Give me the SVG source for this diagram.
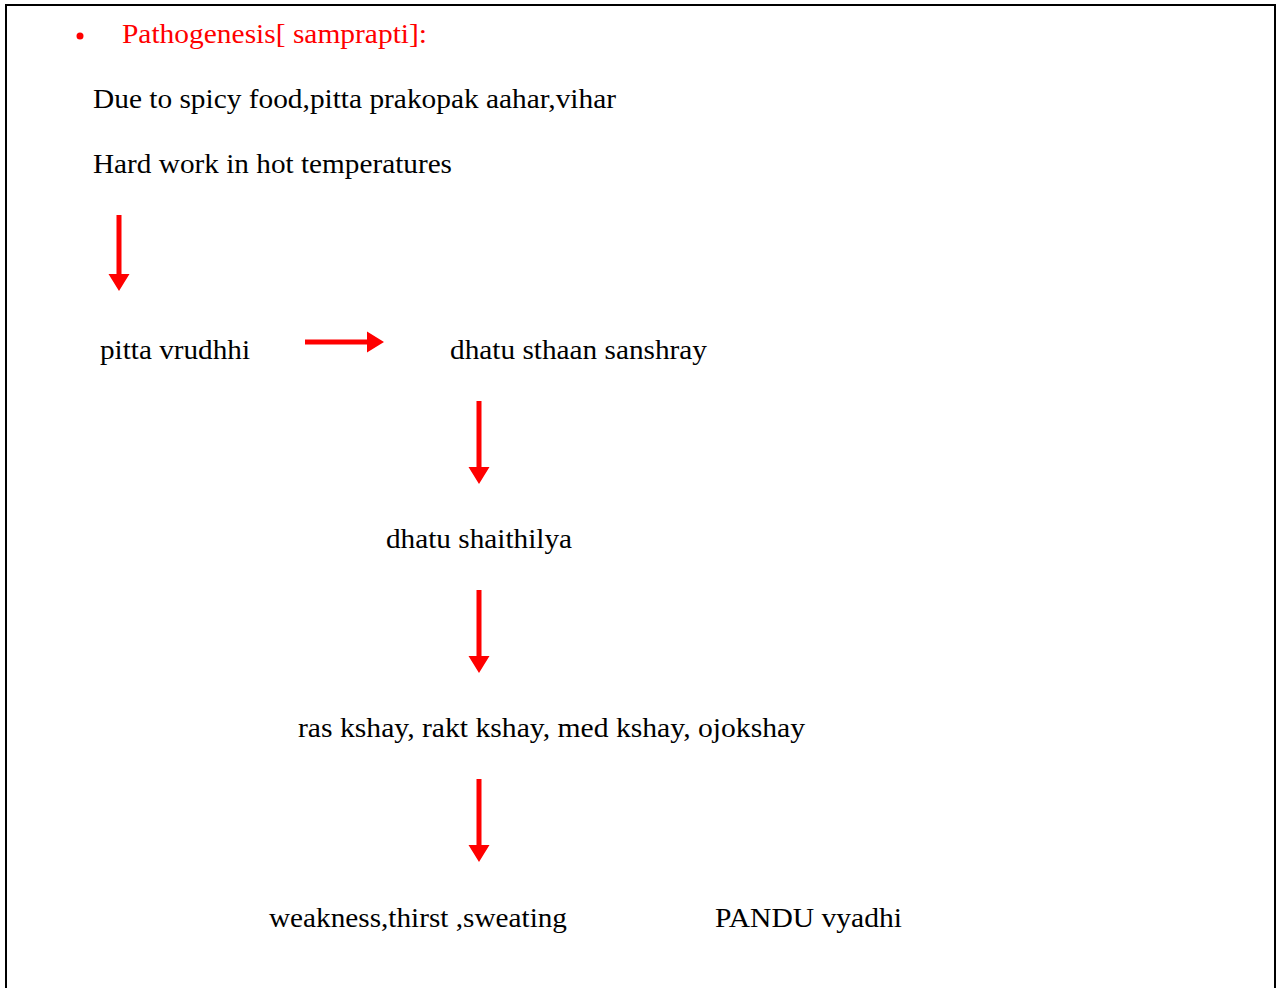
<svg xmlns="http://www.w3.org/2000/svg" width="1277" height="988" viewBox="0 0 1277 988">
<style>
text{font-family:"Liberation Serif","Times New Roman",serif;font-size:27px;fill:#000}
.red{fill:#ff0000}
.shaft{fill:#ff0000}
</style>
<rect x="0" y="0" width="1277" height="988" fill="#fff"/>
<path d="M6,988 V5 H1275 V988" fill="none" stroke="#000" stroke-width="2"/>
<g id="title"><circle cx="80" cy="36" r="3.5" fill="#ff0000"/><text class="red" x="122" y="43" textLength="305" lengthAdjust="spacingAndGlyphs">Pathogenesis[ samprapti]:</text></g>
<g id="cause1"><text x="93" y="108" textLength="523" lengthAdjust="spacingAndGlyphs">Due to spicy food,pitta prakopak aahar,vihar</text></g>
<g id="cause2"><text x="93" y="173" textLength="359" lengthAdjust="spacingAndGlyphs">Hard work in hot temperatures</text></g>
<g id="n1"><text x="100" y="359" textLength="150" lengthAdjust="spacingAndGlyphs">pitta vrudhhi</text></g>
<g id="n2"><text x="450" y="359" textLength="257" lengthAdjust="spacingAndGlyphs">dhatu sthaan sanshray</text></g>
<g id="n3"><text x="386" y="548" textLength="186" lengthAdjust="spacingAndGlyphs">dhatu shaithilya</text></g>
<g id="n4"><text x="298" y="737" textLength="507" lengthAdjust="spacingAndGlyphs">ras kshay, rakt kshay, med kshay, ojokshay</text></g>
<g id="n5"><text x="269" y="927" textLength="298" lengthAdjust="spacingAndGlyphs">weakness,thirst ,sweating</text></g>
<g id="n6"><text x="715" y="927" textLength="187" lengthAdjust="spacingAndGlyphs">PANDU vyadhi</text></g>
<g id="connectors">
<path class="shaft" d="M116.5,215 h5 v59 h8 l-10.5,17 l-10.5,-17 h8 z"/>
<path class="shaft" d="M305,339.5 v5 h62 v8 l17,-10.5 l-17,-10.5 v8 z"/>
<path class="shaft" d="M476.5,401 h5 v66 h8 l-10.5,17 l-10.5,-17 h8 z"/>
<path class="shaft" d="M476.5,590 h5 v66 h8 l-10.5,17 l-10.5,-17 h8 z"/>
<path class="shaft" d="M476.5,779 h5 v66 h8 l-10.5,17 l-10.5,-17 h8 z"/>
</g>
</svg>
